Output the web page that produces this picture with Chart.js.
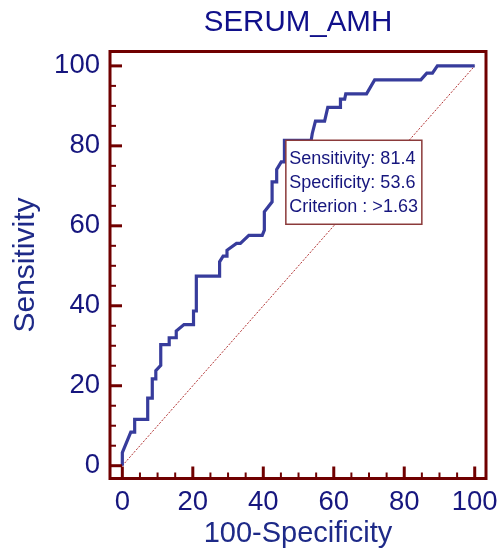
<!DOCTYPE html>
<html>
<head>
<meta charset="utf-8">
<script src="https://cdn.jsdelivr.net/npm/chart.js@4.4.1/dist/chart.umd.min.js"></script>
<style>
html,body{margin:0;padding:0;background:#fff;}
#wrap{width:500px;height:551px;position:relative;}
</style>
</head>
<body>
<div id="wrap"><canvas id="c" width="500" height="551"></canvas></div>
<script>
// ---- data ----
const chartTitle = 'SERUM_AMH';
const xTitle = '100-Specificity';
const yTitle = 'Sensitivity';
const tickValues = [0, 20, 40, 60, 80, 100];
const tickLabels = ['0', '20', '40', '60', '80', '100'];
// ROC curve: 100-Specificity (x) and Sensitivity (y)
const rocFpr  = [0, 0, 2.4, 3.5, 3.5, 7.2, 7.2, 8.5, 8.5, 9.5, 9.5, 10.9, 10.9, 13.3, 13.3, 15.3, 15.3, 17.5, 20.2, 20.2, 21.0, 21.0, 27.6, 27.6, 28.6, 29.7, 29.7, 32.4, 33.5, 35.9, 39.7, 40.3, 40.3, 42.5, 42.5, 43.8, 43.8, 45.1, 46.0, 46.0, 53.6, 53.9, 54.8, 57.4, 58.3, 61.9, 61.9, 63.1, 63.4, 69.3, 71.6, 84.7, 86.4, 88.0, 89.4, 100];
const rocSens = [0, 3.3, 8.4, 8.4, 11.6, 11.6, 16.9, 16.9, 21.7, 21.7, 23.8, 25.1, 30.3, 30.3, 32.0, 32.0, 33.7, 35.3, 35.3, 38.7, 38.7, 47.4, 47.4, 51.0, 52.4, 52.4, 53.9, 55.6, 55.6, 57.6, 57.6, 58.9, 63.5, 66.0, 71.0, 71.0, 74.1, 76.0, 76.0, 81.4, 81.4, 83.1, 86.2, 86.2, 89.6, 89.6, 91.7, 91.7, 93.0, 93.0, 96.5, 96.5, 98.2, 98.2, 100, 100];
const refX = [0, 100];
const refY = [0, 100];
// criterion point
const critX = 46.4;
const critY = 81.4;
const boxLines = ['Sensitivity: 81.4', 'Specificity: 53.6', 'Criterion : >1.63'];

const FONT = '"Liberation Sans", Arial, Helvetica, sans-serif';
const TEXT = '#16167e';
const TITLE_C = '#1e2a88';
const FRAME = '#700000';

const deco = {
  id: 'deco',
  afterDatasetsDraw(chart) {
    const ctx = chart.ctx, xs = chart.scales.x, ys = chart.scales.y;
    const bx = xs.getPixelForValue(critX), by = ys.getPixelForValue(critY);
    const w = 136, h = 84;
    ctx.save();
    ctx.fillStyle = '#fff';
    ctx.fillRect(bx, by, w, h);
    ctx.strokeStyle = '#8b3a3a';
    ctx.lineWidth = 1.5;
    ctx.strokeRect(bx, by, w, h);
    ctx.fillStyle = TEXT;
    ctx.font = '18px ' + FONT;
    ctx.textBaseline = 'middle';
    ctx.textAlign = 'left';
    boxLines.forEach((t, i) => ctx.fillText(t, bx + 3.5, by + 18.5 + i * 24.3));
    ctx.restore();
  },
  afterDraw(chart) {
    const ctx = chart.ctx, a = chart.chartArea, xs = chart.scales.x, ys = chart.scales.y;
    ctx.save();
    ctx.strokeStyle = FRAME;
    ctx.lineCap = 'butt';
    for (let v = 0; v <= 100; v += 5) {
      const major = v % 20 === 0;
      ctx.lineWidth = major ? 3 : 2;
      const len = major ? 12 : 6;
      const px = xs.getPixelForValue(v);
      ctx.beginPath(); ctx.moveTo(px, a.bottom); ctx.lineTo(px, a.bottom - len); ctx.stroke();
      const py = ys.getPixelForValue(v);
      ctx.beginPath(); ctx.moveTo(a.left, py); ctx.lineTo(a.left + len, py); ctx.stroke();
    }
    ctx.lineWidth = 3;
    ctx.strokeRect(a.left, a.top, a.right - a.left, a.bottom - a.top);
    // chart title centred over plot area
    ctx.fillStyle = '#10108a';
    ctx.font = '29.5px ' + FONT;
    ctx.textAlign = 'center';
    ctx.textBaseline = 'middle';
    ctx.fillText(chartTitle, (a.left + a.right) / 2, 23);
    ctx.restore();
  }
};

new Chart(document.getElementById('c'), {
  type: 'scatter',
  data: {
    datasets: [
      {
        data: refX.map((x, i) => ({x, y: refY[i]})),
        showLine: true, borderColor: '#b03030', borderWidth: 1, borderDash: [2, 1.5],
        pointRadius: 0, tension: 0, order: 2
      },
      {
        data: rocFpr.map((x, i) => ({x, y: rocSens[i]})),
        showLine: true, borderColor: '#373c9c', borderWidth: 3.2, borderJoinStyle: 'miter',
        pointRadius: 0, tension: 0, order: 1
      }
    ]
  },
  options: {
    responsive: false,
    animation: false,
    devicePixelRatio: 1,
    layout: { padding: { top: 51.5, right: 14, left: 0, bottom: 0 } },
    plugins: {
      legend: { display: false },
      tooltip: { enabled: false },
      title: { display: false }
    },
    scales: {
      x: {
        type: 'linear', min: -3.5, max: 103.2,
        grid: { display: false, drawTicks: false },
        border: { display: false },
        afterFit(s) { s.height = 72.5; s.paddingLeft = 0; s.paddingRight = 0; },
        afterBuildTicks(s) { s.ticks = tickValues.map(v => ({value: v})); },
        ticks: {
          color: TEXT, padding: 7, font: { family: FONT, size: 27.5 },
          callback: (v) => tickLabels[tickValues.indexOf(v)] ?? ''
        },
        title: { display: true, text: xTitle, color: TITLE_C, font: { family: FONT, size: 29 }, padding: { top: 0, bottom: 0 } }
      },
      y: {
        type: 'linear', min: -3.2, max: 103.6,
        grid: { display: false, drawTicks: false },
        border: { display: false },
        afterFit(s) { s.width = 110; s.paddingTop = 0; s.paddingBottom = 0; },
        afterBuildTicks(s) { s.ticks = tickValues.map(v => ({value: v})); },
        ticks: {
          color: TEXT, padding: 10, font: { family: FONT, size: 27.5 },
          callback: (v) => tickLabels[tickValues.indexOf(v)] ?? ''
        },
        title: { display: true, text: yTitle, color: TITLE_C, font: { family: FONT, size: 30 }, padding: { top: 8, bottom: 8 } }
      }
    }
  },
  plugins: [deco]
});
</script>
</body>
</html>
